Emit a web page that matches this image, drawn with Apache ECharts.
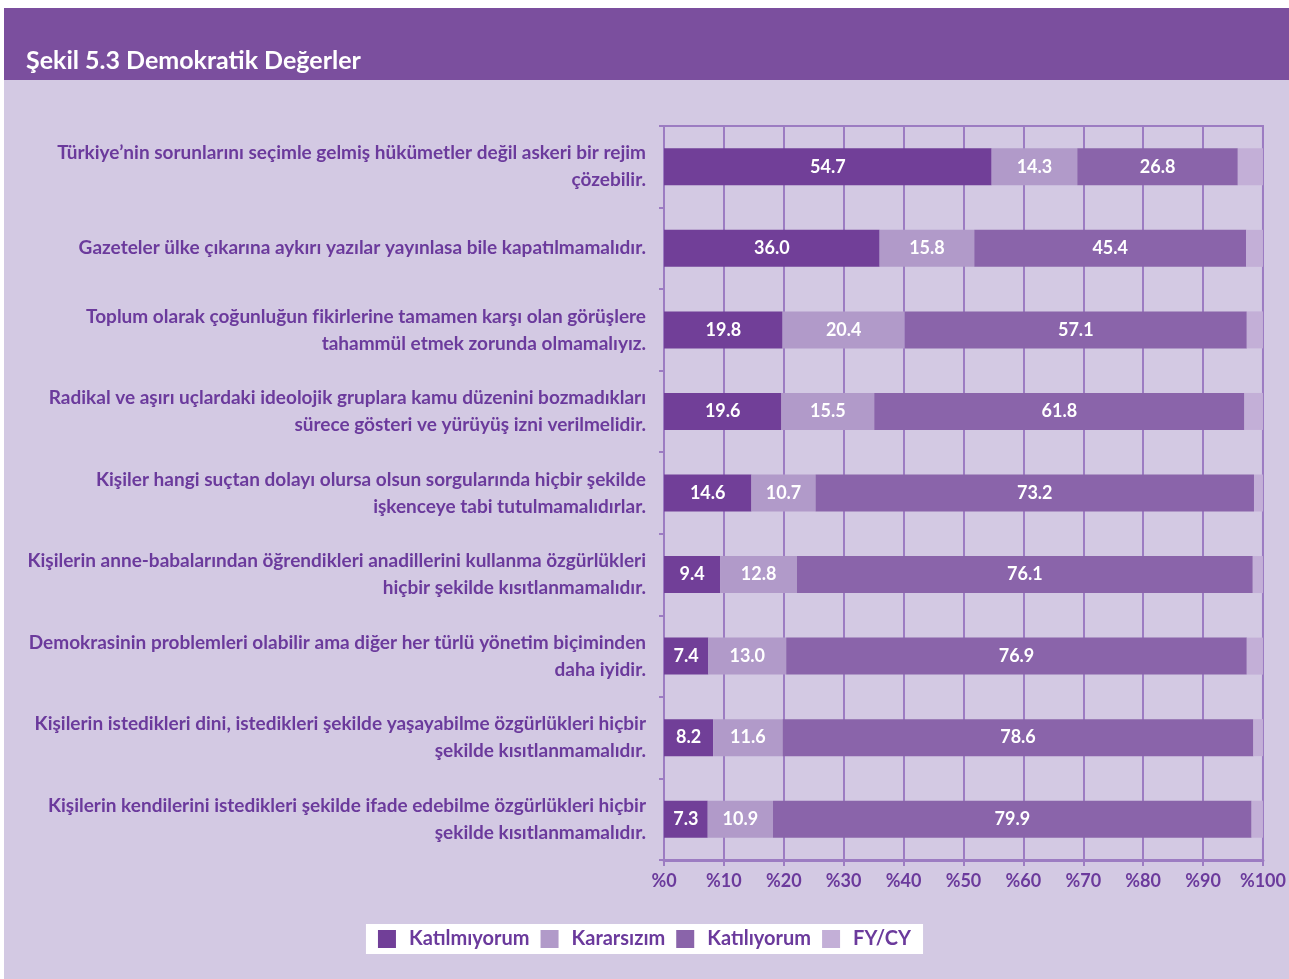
<!DOCTYPE html>
<html lang="tr">
<head>
<meta charset="UTF-8">
<title>Şekil 5.3 Demokratik Değerler</title>
<style>
  html, body { margin: 0; padding: 0; background: #fff; }
  #wrap { position: relative; width: 1289px; height: 979px; overflow: hidden; }
  #panel { position: absolute; left: 4px; top: 8px; right: 0; bottom: 0; background: #d3c9e3; }
  #band { position: absolute; left: 4px; top: 8px; right: 0; height: 72px; background: #7b4f9e; }
  #chart { position: absolute; left: 0; top: 0; width: 1289px; height: 979px; }
</style>
</head>
<body>
<div id="wrap">
  <div id="panel"></div>
  <div id="band"></div>
  <div id="chart"></div>
</div>
<script src="https://cdn.jsdelivr.net/npm/echarts@6/dist/echarts.min.js"></script>
<script>
var categories = [
  'Türkiye’nin sorunlarını seçimle gelmiş hükümetler değil askeri bir rejim\nçözebilir.',
  'Gazeteler ülke çıkarına aykırı yazılar yayınlasa bile kapatılmamalıdır.',
  'Toplum olarak çoğunluğun fikirlerine tamamen karşı olan görüşlere\ntahammül etmek zorunda olmamalıyız.',
  'Radikal ve aşırı uçlardaki ideolojik gruplara kamu düzenini bozmadıkları\nsürece gösteri ve yürüyüş izni verilmelidir.',
  'Kişiler hangi suçtan dolayı olursa olsun sorgularında hiçbir şekilde\nişkenceye tabi tutulmamalıdırlar.',
  'Kişilerin anne-babalarından öğrendikleri anadillerini kullanma özgürlükleri\nhiçbir şekilde kısıtlanmamalıdır.',
  'Demokrasinin problemleri olabilir ama diğer her türlü yönetim biçiminden\ndaha iyidir.',
  'Kişilerin istedikleri dini, istedikleri şekilde yaşayabilme özgürlükleri hiçbir\nşekilde kısıtlanmamalıdır.',
  'Kişilerin kendilerini istedikleri şekilde ifade edebilme özgürlükleri hiçbir\nşekilde kısıtlanmamalıdır.'
];
var katilmiyorum = [54.7, 36.0, 19.8, 19.6, 14.6, 9.4, 7.4, 8.2, 7.3];
var kararsizim   = [14.3, 15.8, 20.4, 15.5, 10.7, 12.8, 13.0, 11.6, 10.9];
var katiliyorum  = [26.8, 45.4, 57.1, 61.8, 73.2, 76.1, 76.9, 78.6, 79.9];
var fycy         = [4.2, 2.8, 2.7, 3.1, 1.5, 1.7, 2.7, 1.6, 1.9];
var seriesNames  = ['Katılmıyorum', 'Kararsızım', 'Katılıyorum', 'FY/CY'];
var seriesColors = ['#713f98', '#b19ac9', '#8a64aa', '#c3afd7'];

var fontName = 'Lato';
var textPurple = '#6b3a9c';
var gridColor = '#9c7cc2';

function makeSeries(name, data, color, showLabel) {
  return {
    name: name,
    type: 'bar',
    stack: 'total',
    barWidth: 37,
    data: data,
    itemStyle: { color: color },
    label: {
      show: showLabel,
      position: 'inside',
      color: '#fff',
      fontFamily: fontName,
      fontWeight: 'bold',
      fontSize: 18,
      formatter: function (p) { return p.value.toFixed(1); }
    },
    emphasis: { disabled: true }
  };
}

var chart = echarts.init(document.getElementById('chart'));
var option = {
  backgroundColor: 'transparent',
  animation: false,
  title: {
    text: 'Şekil 5.3 Demokratik Değerler',
    left: 21,
    top: 43,
    textStyle: { color: '#fff', fontFamily: fontName, fontWeight: 'bold', fontSize: 25 }
  },
  legend: {
    bottom: 25,
    left: 'center',
    data: seriesNames,
    icon: 'rect',
    itemWidth: 18,
    itemHeight: 18,
    itemGap: 11,
    backgroundColor: '#fff',
    padding: [5, 12],
    textStyle: {
      color: textPurple, fontFamily: fontName, fontWeight: 'bold', fontSize: 20,
      padding: [0, 0, 0, 8]
    }
  },
  grid: {
    left: 664,
    right: 26,
    top: 126,
    bottom: 119,
    show: true,
    borderColor: gridColor,
    borderWidth: 2,
    backgroundColor: 'transparent'
  },
  xAxis: {
    type: 'value',
    min: 0,
    max: 100,
    interval: 10,
    axisLine: { show: true, lineStyle: { color: gridColor, width: 3 } },
    axisTick: { show: true, length: 6, lineStyle: { color: gridColor, width: 2 } },
    splitLine: { show: true, lineStyle: { color: gridColor, width: 2 } },
    axisLabel: {
      color: textPurple,
      fontFamily: fontName,
      fontWeight: 'bold',
      fontSize: 18,
      margin: 12,
      formatter: function (v) { return '%' + v; }
    }
  },
  yAxis: {
    type: 'category',
    inverse: true,
    data: categories,
    axisLine: { show: true, lineStyle: { color: gridColor, width: 2 } },
    axisTick: { show: true, length: 5, lineStyle: { color: gridColor, width: 2 } },
    axisLabel: {
      color: textPurple,
      fontFamily: fontName,
      fontWeight: 'bold',
      fontSize: 19,
      lineHeight: 27,
      margin: 18,
      align: 'right'
    }
  },
  series: [
    makeSeries(seriesNames[0], katilmiyorum, seriesColors[0], true),
    makeSeries(seriesNames[1], kararsizim, seriesColors[1], true),
    makeSeries(seriesNames[2], katiliyorum, seriesColors[2], true),
    makeSeries(seriesNames[3], fycy, seriesColors[3], false)
  ]
};
chart.setOption(option);
</script>
</body>
</html>
